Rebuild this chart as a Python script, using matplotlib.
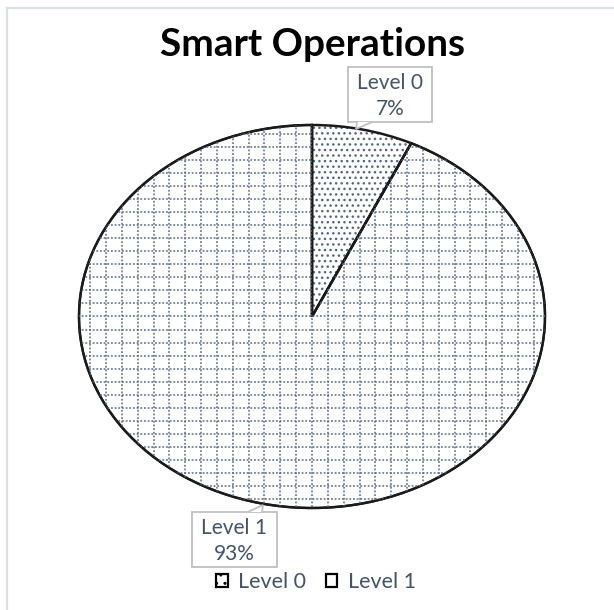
import numpy as np
import matplotlib.pyplot as plt
from matplotlib.patches import Patch, Rectangle, Polygon
from matplotlib.lines import Line2D
from matplotlib.collections import LineCollection

labels = ["Level 0", "Level 1"]
shares = [7, 93]
pct_text = ["7%", "93%"]

plt.rcParams['font.family'] = ['Lato', 'DejaVu Sans']

txt_col = "#44546A"
W, H = 614, 610

fig = plt.figure(figsize=(W / 100, H / 100), dpi=100)
r = fig.canvas.get_renderer()

def fx(px):
    return px / W

def fy(py):
    return 1 - py / H

def fit(t, target):
    # scale a text so its width in pixels matches the source
    w = t.get_window_extent(r).width
    t.set_fontsize(t.get_fontsize() * target / w)

# light frame lines on top and left
fig.add_artist(Line2D([fx(7), fx(7)], [0, fy(8)], color="#DCE1E8", lw=1.6))
fig.add_artist(Line2D([fx(7), 1], [fy(8), fy(8)], color="#DCE1E8", lw=1.6))

ax = fig.add_axes([fx(79), fy(508), fx(545) - fx(79), fy(125) - fy(508)])

wedges, _ = ax.pie(shares, startangle=90, counterclock=False,
                   colors=["white", "white"],
                   wedgeprops=dict(edgecolor="#1f1f1f", linewidth=1.6))
ax.set_aspect('auto')
ax.set_xlim(-1, 1)
ax.set_ylim(-1, 1)
ax.axis('off')

# Level 0: dotted fill
wedges[0].set_hatch("...")
wedges[0].set_edgecolor("#56667F")
wedges[0].set_linewidth(0)

# Level 1: dotted grid, clipped to its wedge
step = 0.068
g = np.arange(-1.02, 1.02, step)
segs = [[(v, -1.05), (v, 1.05)] for v in g] + [[(-1.05, v), (1.05, v)] for v in g]
grid = LineCollection(segs, colors="#5B6B84", linewidths=1.1, linestyles=(0, (1.2, 1.2)))
ax.add_collection(grid)
grid.set_clip_path(wedges[1])

# outlines drawn again on top
ax.pie(shares, startangle=90, counterclock=False,
       wedgeprops=dict(fill=False, edgecolor="#1a1a1a", linewidth=1.8))
ax.set_aspect('auto')
ax.set_xlim(-1, 1)
ax.set_ylim(-1, 1)

title = fig.text(fx(312), fy(56), "Smart Operations", ha="center", va="baseline",
                 fontsize=20, fontweight="bold", color="black")
fit(title, 305)

# callout boxes
def callout(x0, x1, y0, y1, notch, text):
    fig.add_artist(Rectangle((fx(x0), fy(y1)), fx(x1) - fx(x0), fy(y0) - fy(y1),
                             transform=fig.transFigure, facecolor="white",
                             edgecolor="#BFBFBF", lw=1.3, zorder=5))
    fig.add_artist(Polygon([(fx(x), fy(y)) for x, y in notch], closed=False,
                           transform=fig.transFigure, facecolor="white",
                           edgecolor="#BFBFBF", lw=1.3, zorder=6))
    t = fig.text((fx(x0) + fx(x1)) / 2, (fy(y0) + fy(y1)) / 2 - 0.002, text,
                 ha="center", va="center", color=txt_col, fontsize=12,
                 linespacing=1.4, zorder=7)
    fit(t, 66)
    return t

callout(348, 432, 67, 122, [(357, 122), (356, 129), (372, 122)],
        labels[0] + "\n" + pct_text[0])
callout(192, 277, 512, 567, [(248, 512), (263, 505), (262, 512)],
        labels[1] + "\n" + pct_text[1])

probe = fig.text(0, 0, "Level 0", fontsize=12)
leg_fs = 12 * 68 / probe.get_window_extent(r).width
probe.remove()

handles = [Patch(facecolor="white", edgecolor="black", hatch="..", lw=1.6),
           Patch(facecolor="white", edgecolor="black", lw=1.6)]
fig.legend(handles, labels, loc="center", bbox_to_anchor=(fx(316), fy(582)),
           ncol=2, frameon=False, fontsize=leg_fs, labelcolor=txt_col,
           handlelength=0.55, handleheight=0.55, handletextpad=0.5, columnspacing=0.9)

fig.savefig("out.png", dpi=100)
